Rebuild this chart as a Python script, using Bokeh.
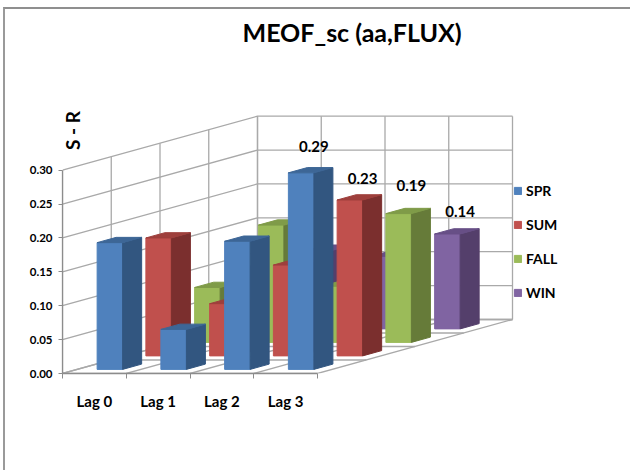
from bokeh.embed import file_html
from bokeh.resources import INLINE
from bokeh.plotting import figure
from bokeh.core.properties import value
from bokeh.models import (FixedTicker, InlineStyleSheet, Legend, LegendItem,
                          LinearAxis, NumeralTickFormatter, Range1d)

# Chart values
categories = ["Lag 0", "Lag 1", "Lag 2", "Lag 3"]
series_names = ["SPR", "SUM", "FALL", "WIN"]
spr = [0.187, 0.059, 0.189, 0.29]
sum_ = [0.174, 0.077, 0.134, 0.23]
fall = [0.081, 0.173, 0.083, 0.19]
win = [0.09, 0.116, 0.107, 0.14]
value_ticks = [0.0, 0.05, 0.10, 0.15, 0.20, 0.25, 0.30]

# Front, side and top shades per series
shades = [
    ("#4F81BD", "#325680", "#3D6696"),
    ("#C0504D", "#7B2F2E", "#9E3F3C"),
    ("#9BBB59", "#667B39", "#7F9B48"),
    ("#8064A2", "#543F6B", "#674F86"),
]

# Scale of the plot area and the oblique projection of the depth axis
PX_PER_CAT = 63.75
PX_PER_VALUE = 677.8
LEFT, BASE = 62, 373
DEPTH_X = 48.75 / PX_PER_CAT
DEPTH_Y = 13.5 / PX_PER_VALUE
N_CAT, N_DEPTH, TOP_VALUE = len(categories), len(series_names), value_ticks[-1]


def proj(c, v, d):
    return c + d * DEPTH_X, v + d * DEPTH_Y


def poly(points):
    xy = [proj(*pt) for pt in points]
    return [q[0] for q in xy], [q[1] for q in xy]


# Outer frame of the chart area: only its top and left edges fall on the page
frame_css = InlineStyleSheet(css="""
:host { position: relative; }
:host::after {
  content: ""; position: absolute; left: 3px; top: 7px; right: 0; bottom: 0;
  border-top: 2px solid #8F8F8F; border-left: 2px solid #9A9A9A;
  pointer-events: none; z-index: 10;
}
""")

p = figure(width=630, height=470, output_backend="svg", toolbar_location=None,
           x_range=Range1d(0, (630 - LEFT) / PX_PER_CAT),
           y_range=Range1d(0, (BASE - 56) / PX_PER_VALUE),
           x_axis_type=None, y_axis_type=None,
           min_border_left=LEFT, min_border_right=0,
           min_border_top=56, min_border_bottom=470 - BASE,
           background_fill_color="white", border_fill_color="white",
           outline_line_color=None, stylesheets=[frame_css])
p.grid.visible = False

p.title.text = "MEOF_sc (aa,FLUX)"
p.title.align = "left"
p.title.offset = 180
p.title.standoff = 19
p.title.text_font = "Lato"
p.title.text_font_style = "bold"
p.title.text_font_size = "25px"
p.title.text_color = "#000000"

# Wall and floor grid
wall_xs, wall_ys = [], []
for v in value_ticks:
    xs, ys = poly([(0, v, 0), (0, v, N_DEPTH), (N_CAT, v, N_DEPTH)])
    wall_xs.append(xs)
    wall_ys.append(ys)
for c in range(N_CAT + 1):
    xs, ys = poly([(c, 0, N_DEPTH), (c, TOP_VALUE, N_DEPTH)])
    wall_xs.append(xs)
    wall_ys.append(ys)
    xs, ys = poly([(c, 0, 0), (c, 0, N_DEPTH)])
    wall_xs.append(xs)
    wall_ys.append(ys)
for d in range(N_DEPTH + 1):
    xs, ys = poly([(0, 0, d), (0, TOP_VALUE, d)])
    wall_xs.append(xs)
    wall_ys.append(ys)
    xs, ys = poly([(0, 0, d), (N_CAT, 0, d)])
    wall_xs.append(xs)
    wall_ys.append(ys)
p.multi_line(wall_xs, wall_ys, line_color="#A9A9A9", line_width=1.3)

# Columns, from the rearmost series to the front one
all_series = [spr, sum_, fall, win]
front_renderers = {}
C0, C1, D0, D1 = 0.31, 0.71, 0.305, 0.695
for slot in reversed(range(N_DEPTH)):
    vals = all_series[slot]
    front_col, side_col, top_col = shades[slot]
    faces = {"front": ([], []), "side": ([], []), "top": ([], [])}
    for i, v in enumerate(vals):
        c0, c1 = i + C0, i + C1
        d0, d1 = slot + D0, slot + D1
        for key, pts in (
            ("front", [(c0, 0, d0), (c1, 0, d0), (c1, v, d0), (c0, v, d0)]),
            ("side", [(c1, 0, d0), (c1, 0, d1), (c1, v, d1), (c1, v, d0)]),
            ("top", [(c0, v, d0), (c1, v, d0), (c1, v, d1), (c0, v, d1)]),
        ):
            xs, ys = poly(pts)
            faces[key][0].append(xs)
            faces[key][1].append(ys)
    front_renderers[slot] = p.patches(*faces["front"], fill_color=front_col, line_color=front_col)
    p.patches(*faces["side"], fill_color=side_col, line_color=side_col)
    p.patches(*faces["top"], fill_color=top_col, line_color=top_col)

# Value labels stand above the Lag 3 columns
label_lift = [26, 21, 28.5, 22]
lx, ly, ltext, loff = [], [], [], []
for slot, vals in enumerate(all_series):
    x, y = proj(N_CAT - 1 + C0, vals[-1], slot + D0)
    lx.append(x + 25.5 / PX_PER_CAT)
    ly.append(y)
    ltext.append(f"{vals[-1]:.2f}")
    loff.append(-label_lift[slot])
p.text(lx, ly, text=ltext, y_offset=loff, text_align="center", text_baseline="middle",
       text_font=value("Lato"), text_font_style="bold", text_font_size="15px",
       text_color="#000000")

# Rotated measure name beside the value axis
p.text([10 / PX_PER_CAT], [243 / PX_PER_VALUE], text=["S - R"], angle=1.5708,
       text_align="center", text_baseline="middle",
       text_font=value("Lato"), text_font_style="bold", text_font_size="19px",
       text_color="#000000")

# Axes
y_axis = LinearAxis(ticker=FixedTicker(ticks=value_ticks), bounds=(0, TOP_VALUE),
                    formatter=NumeralTickFormatter(format="0.00"),
                    axis_line_color="#8C8C8C", axis_line_width=1.3,
                    major_tick_line_color="#8C8C8C", major_tick_out=4, major_tick_in=0,
                    minor_tick_line_color=None, major_label_standoff=6,
                    major_label_text_font="Lato", major_label_text_font_style="bold",
                    major_label_text_font_size="11.5px", major_label_text_color="#000000")
p.add_layout(y_axis, "left")

centres = [i + 0.5 for i in range(N_CAT)]
x_axis = LinearAxis(ticker=FixedTicker(ticks=centres, minor_ticks=list(range(N_CAT + 1))),
                    bounds=(0, N_CAT),
                    major_label_overrides=dict(zip(centres, categories)),
                    axis_line_color="#8C8C8C", axis_line_width=1.3,
                    major_tick_line_color=None, major_tick_in=0, major_tick_out=0,
                    minor_tick_line_color="#8C8C8C", minor_tick_in=0, minor_tick_out=5,
                    major_label_standoff=13,
                    major_label_text_font="Lato", major_label_text_font_style="bold",
                    major_label_text_font_size="15px", major_label_text_color="#000000")
p.add_layout(x_axis, "below")

legend = Legend(items=[LegendItem(label=name, renderers=[front_renderers[i]])
                       for i, name in enumerate(series_names)],
                location=(451, 72), orientation="vertical",
                glyph_width=9, glyph_height=9, label_standoff=4, label_height=18,
                spacing=16, padding=0, margin=0,
                border_line_color=None, background_fill_color=None,
                label_text_font="Lato", label_text_font_style="bold",
                label_text_font_size="14px", label_text_color="#000000")
p.add_layout(legend, "center")

open("out.html", "w").write(file_html(p, INLINE))
